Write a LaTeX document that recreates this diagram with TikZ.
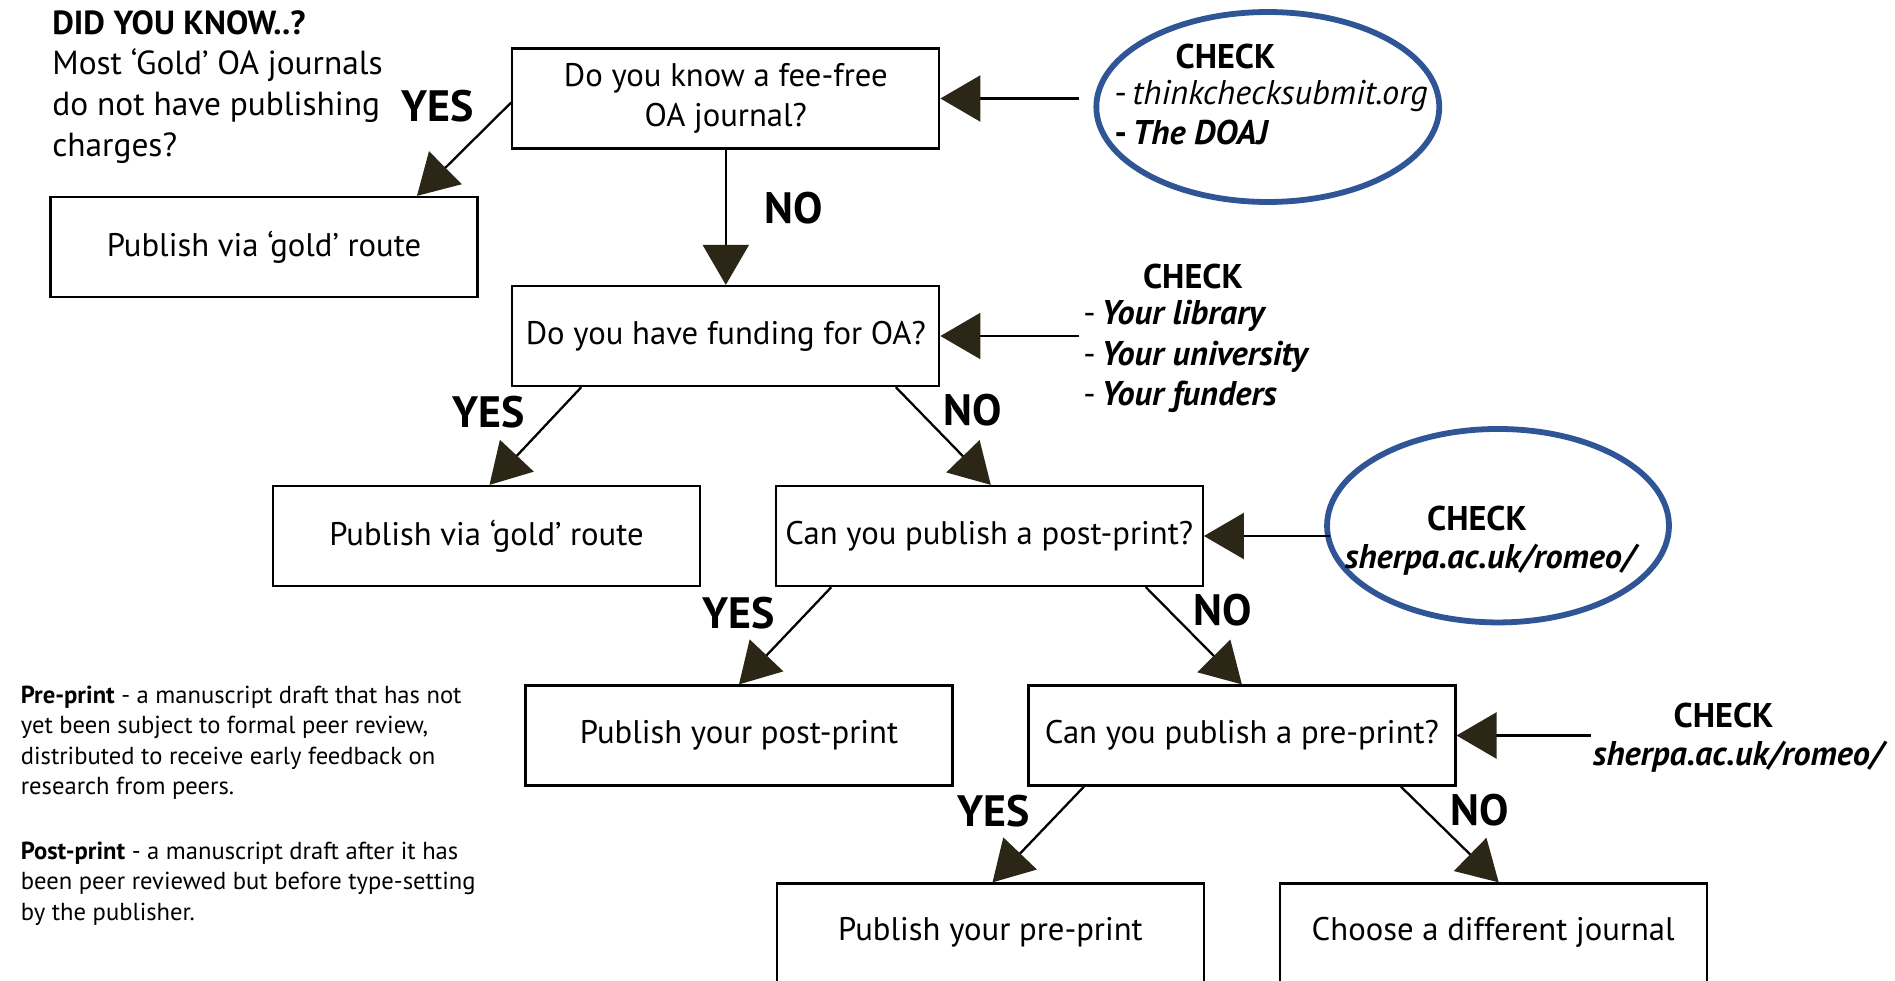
\documentclass[tikz,border=0pt]{standalone}
\usepackage{fontspec}
\setmainfont{PT Sans}
\usetikzlibrary{arrows.meta,shapes.geometric}
\definecolor{tipc}{HTML}{2B2616}
\definecolor{ellblue}{HTML}{2F5597}
\begin{document}
\begin{tikzpicture}[x=0.02cm,y=-0.02cm,
  box/.style={draw=black,line width=1.3pt,minimum width=8.54cm,minimum height=2cm,inner sep=0pt,align=center,font=\fontsize{18.6}{22.5}\selectfont},
  arr/.style={line width=1.3pt,-{Triangle[length=0.8cm,width=0.92cm,fill=tipc,color=tipc]}},
  yn/.style={font=\fontsize{25}{28}\selectfont\bfseries,inner sep=0pt},
  txt/.style={font=\fontsize{19}{22}\selectfont,inner sep=0pt,anchor=west},
  ctxt/.style={font=\fontsize{19.5}{22}\selectfont,inner sep=0pt,anchor=west},
  chk/.style={font=\fontsize{19.5}{22}\selectfont,inner sep=0pt},
  defn/.style={font=\fontsize{14}{16}\selectfont,inner sep=0pt,anchor=west},
  oval/.style={ellipse,draw=ellblue,line width=3.3pt,inner sep=0pt}
]
\clip (0,0) rectangle (1895,980);
\fill[white] (0,0) rectangle (1895,980);

% top-left note
\node[txt] (dyk) at (52,27) {\strut\bfseries DID YOU KNOW..?};
\node[txt] (dyk1) at (52,67) {\strut Most ‘Gold’ OA journals};
\node[txt] (dyk2) at (52,108) {\strut do not have publishing};
\node[txt] (dyk3) at (52,149) {\strut charges?};

% boxes
\node[box] (b1) at (725.8,98.5) {Do you know a fee-free\\OA journal?};
\node[box] (g1) at (264,247) {Publish via ‘gold’ route};
\node[box] (b2) at (725.8,336) {Do you have funding for OA?};
\node[box] (g2) at (486.5,536) {Publish via ‘gold’ route};
\node[box] (b4) at (989.3,536) {Can you publish a post-print?};
\node[box] (b5) at (739,735.5) {Publish your post-print};
\node[box] (b6) at (1241.9,735.5) {Can you publish a pre-print?};
\node[box,text depth=0pt] (b7) at (990.5,933.5) {\raisebox{0.3em}{Publish your pre-print}};
\node[box,text depth=0pt] (b8) at (1493.2,933.5) {\raisebox{0.3em}{Choose a different journal}};

% flow arrows
\draw[arr] ([yshift=-0.08cm]b1.west) -- ([xshift=3.06cm]g1.north);
\draw[arr] (b1.south) -- (b2.north);
\draw[arr] ([xshift=-2.89cm]b2.south) -- ([xshift=0.06cm]g2.north);
\draw[arr] ([xshift=3.40cm]b2.south) -- ([xshift=0.03cm]b4.north);
\draw[arr] ([xshift=-3.16cm]b4.south) -- (b5.north);
\draw[arr] ([xshift=3.13cm]b4.south) -- (b6.north);
\draw[arr] ([xshift=-3.16cm]b6.south) -- ([xshift=0.04cm]b7.north);
\draw[arr] ([xshift=3.18cm]b6.south) -- ([xshift=0.11cm]b8.north);

% YES / NO labels
\node[yn] (y1) at (437.5,106) {YES};
\node[yn] (n1) at (794,208) {NO};
\node[yn] (y2) at (488.3,412) {YES};
\node[yn] (n2) at (972.9,410) {NO};
\node[yn] (y3) at (738.5,613) {YES};
\node[yn] (n3) at (1223.1,610) {NO};
\node[yn] (y4) at (993.5,811) {YES};
\node[yn] (n4) at (1479.3,810) {NO};

% check 1 (oval)
\node[oval,minimum width=6.86cm,minimum height=3.8cm] (e1) at (1267.8,107) {};
\node[chk] (c1t) at (1225.5,57) {\bfseries CHECK};
\node[ctxt] (c1a) at (1114.3,97) {\strut -\,\itshape thinkchecksubmit.org};
\node[ctxt] (c1b) at (1114.3,137) {\strut\bfseries -\,\itshape The DOAJ};
\coordinate (k1) at (1079.3,98.5);
\draw[arr] (k1) -- (b1.east);

% check 2
\node[chk] (c2t) at (1192.9,277) {\bfseries CHECK};
\node[ctxt] (c2a) at (1082.9,317) {\strut -\,\bfseries\itshape Your library};
\node[ctxt] (c2b) at (1082.9,358) {\strut -\,\bfseries\itshape Your university};
\node[ctxt] (c2c) at (1082.9,398) {\strut -\,\bfseries\itshape Your funders};
\coordinate (k2) at (1079.3,336);
\draw[arr] (k2) -- (b2.east);

% check 3 (oval)
\node[oval,minimum width=6.84cm,minimum height=3.87cm] (e2) at (1498,525.7) {};
\node[chk] (c3t) at (1477,518.5) {\bfseries CHECK};
\node[chk] (c3a) at (1490,559.6) {\bfseries\itshape sherpa.ac.uk/romeo/};
\coordinate (k3) at (1329.5,536);
\draw[arr] (k3) -- (b4.east);

% check 4
\node[chk] (c4t) at (1723.5,715.5) {\bfseries CHECK};
\node[chk] (c4a) at (1738,756.6) {\bfseries\itshape sherpa.ac.uk/romeo/};
\coordinate (k4) at (1590.5,735.5);
\draw[arr] (k4) -- (b6.east);

% definitions
\node[defn] (d1) at (20.5,698) {\strut\textbf{Pre-print} - a manuscript draft that has not};
\node[defn] (d2) at (20.5,728) {\strut yet been subject to formal peer review,};
\node[defn] (d3) at (20.5,758.5) {\strut distributed to receive early feedback on};
\node[defn] (d4) at (20.5,789) {\strut research from peers.};
\node[defn] (d5) at (20.5,854) {\strut\textbf{Post-print} - a manuscript draft after it has};
\node[defn] (d6) at (20.5,884) {\strut been peer reviewed but before type-setting};
\node[defn] (d7) at (20.5,914.5) {\strut by the publisher.};
\end{tikzpicture}
\end{document}
